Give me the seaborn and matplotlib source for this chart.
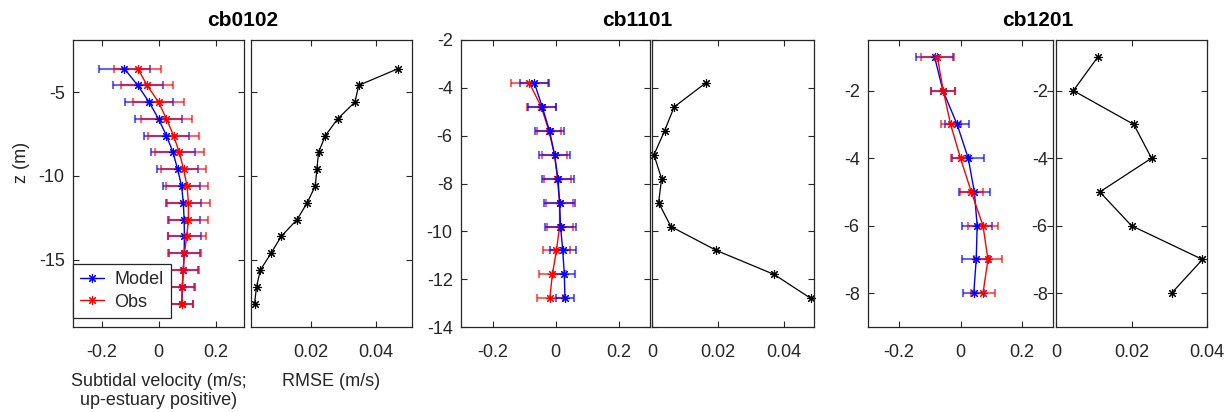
import numpy as np
import pandas as pd
import matplotlib
matplotlib.use("Agg")
import matplotlib.pyplot as plt
from matplotlib.lines import Line2D
import seaborn as sns

# ---------------- data ----------------
stations = ["cb0102", "cb1101", "cb1201"]

z_cb0102 = [-3.6, -4.6, -5.6, -6.6, -7.6, -8.6, -9.6, -10.6, -11.6, -12.6, -13.6, -14.6, -15.6, -16.6, -17.6]
model_cb0102 = [-0.120, -0.073, -0.033, 0.000, 0.028, 0.051, 0.067, 0.081, 0.087, 0.090, 0.091, 0.090, 0.087, 0.084, 0.082]
model_err_cb0102 = [0.090, 0.088, 0.085, 0.082, 0.080, 0.076, 0.071, 0.065, 0.061, 0.057, 0.057, 0.054, 0.052, 0.045, 0.040]
obs_cb0102 = [-0.073, -0.040, 0.000, 0.028, 0.053, 0.073, 0.088, 0.100, 0.105, 0.105, 0.099, 0.091, 0.087, 0.083, 0.082]
obs_err_cb0102 = [0.083, 0.091, 0.088, 0.090, 0.089, 0.085, 0.080, 0.075, 0.074, 0.069, 0.066, 0.059, 0.054, 0.043, 0.039]
rmse_cb0102 = [0.0469, 0.0347, 0.0335, 0.0282, 0.0244, 0.0223, 0.0218, 0.0213, 0.0188, 0.0157, 0.0108, 0.0077, 0.0044, 0.0032, 0.0026]

z_cb1101 = [-3.8, -4.8, -5.8, -6.8, -7.8, -8.8, -9.8, -10.8, -11.8, -12.8]
model_cb1101 = [-0.067, -0.042, -0.019, -0.003, 0.008, 0.013, 0.016, 0.023, 0.028, 0.030]
model_err_cb1101 = [0.045, 0.044, 0.047, 0.049, 0.050, 0.049, 0.048, 0.042, 0.035, 0.030]
obs_cb1101 = [-0.083, -0.045, -0.021, -0.003, 0.006, 0.013, 0.013, 0.003, -0.010, -0.018]
obs_err_cb1101 = [0.058, 0.045, 0.038, 0.041, 0.042, 0.042, 0.041, 0.044, 0.043, 0.041]
rmse_cb1101 = [0.0162, 0.0067, 0.0038, 0.0006, 0.0029, 0.0020, 0.0057, 0.0195, 0.0369, 0.0480]

z_cb1201 = [-1, -2, -3, -4, -5, -6, -7, -8]
model_cb1201 = [-0.084, -0.057, -0.011, 0.025, 0.045, 0.054, 0.051, 0.043]
model_err_cb1201 = [0.060, 0.039, 0.038, 0.052, 0.050, 0.048, 0.045, 0.034]
obs_cb1201 = [-0.075, -0.056, -0.032, 0.000, 0.035, 0.073, 0.089, 0.073]
obs_err_cb1201 = [0.053, 0.039, 0.032, 0.032, 0.038, 0.049, 0.046, 0.039]
rmse_cb1201 = [0.0111, 0.0046, 0.0206, 0.0253, 0.0116, 0.0200, 0.0388, 0.0306]

vel_ticks = [-0.2, 0, 0.2]
vel_ticklabels = ["-0.2", "0", "0.2"]
rmse_ticks = [0, 0.02, 0.04]
rmse_ticklabels = ["0", "0.02", "0.04"]

# ---------------- style ----------------
sns.set_style("ticks")
plt.rcParams["font.family"] = ["Liberation Sans", "DejaVu Sans"]
plt.rcParams["axes.unicode_minus"] = False
txt = "#262626"

fig = plt.figure(figsize=(12.27, 4.12), dpi=100)
W, H = 1227.0, 412.0


def add_ax(x0, x1, y0, y1):
    return fig.add_axes([x0 / W, 1 - y1 / H, (x1 - x0) / W, (y1 - y0) / H])


def style(ax):
    for s in ax.spines.values():
        s.set_color("#262626")
        s.set_linewidth(0.9)
    ax.tick_params(direction="in", top=True, right=True, length=4, width=0.8,
                   labelsize=13, colors="#262626", labelcolor=txt)
    ax.tick_params(axis="x", pad=12)
    ax.tick_params(axis="y", pad=6)


ast = (8, 2, 0)
MS = 6.5
MEW = 0.8

panels = [
    dict(name="cb0102", z=z_cb0102, m=model_cb0102, me=model_err_cb0102, o=obs_cb0102,
         oe=obs_err_cb0102, r=rmse_cb0102, vx=(73, 244), rx=(251, 412), ylim=(-19.0, -1.9),
         yt=[-15, -10, -5], rxlim=(0.0015, 0.0511), rlab=False, order="mo"),
    dict(name="cb1101", z=z_cb1101, m=model_cb1101, me=model_err_cb1101, o=obs_cb1101,
         oe=obs_err_cb1101, r=rmse_cb1101, vx=(461, 650), rx=(652, 814), ylim=(-14, -2),
         yt=[-14, -12, -10, -8, -6, -4, -2], rxlim=(0.0, 0.049), rlab=False, order="om"),
    dict(name="cb1201", z=z_cb1201, m=model_cb1201, me=model_err_cb1201, o=obs_cb1201,
         oe=obs_err_cb1201, r=rmse_cb1201, vx=(868, 1053), rx=(1056, 1207), ylim=(-9, -0.5),
         yt=[-8, -6, -4, -2], rxlim=(0.0, 0.040), rlab=True, order="mo"),
]

for i, p in enumerate(panels):
    y0, y1 = 40, 327
    axv = add_ax(p["vx"][0], p["vx"][1], y0, y1)
    axr = add_ax(p["rx"][0], p["rx"][1], y0, y1)

    series = {"m": ("Model", p["m"], p["me"], "blue"), "o": ("Obs", p["o"], p["oe"], "red")}
    for key in p["order"]:
        lab, vals, errs, col = series[key]
        df = pd.DataFrame({"u": vals, "z": p["z"]})
        axv.errorbar(vals, p["z"], xerr=errs, fmt="none", ecolor=col, alpha=0.6,
                     elinewidth=1.5, capsize=3.2, capthick=1.5, zorder=2)
        sns.lineplot(data=df, x="u", y="z", orient="y", sort=False, estimator=None,
                     color=col, lw=1.0, marker=ast, markersize=MS, markeredgecolor=col,
                     markeredgewidth=MEW, ax=axv, zorder=3)
    axv.set_xticks(vel_ticks, vel_ticklabels)
    axv.set_yticks(p["yt"], [str(t) for t in p["yt"]])
    axv.set_xlim(-0.3, 0.3)
    axv.set_ylim(*p["ylim"])
    axv.set_xlabel("")
    axv.set_ylabel("")
    style(axv)
    if axv.get_legend() is not None:
        axv.get_legend().remove()

    dfr = pd.DataFrame({"rmse": p["r"], "z": p["z"]})
    sns.lineplot(data=dfr, x="rmse", y="z", orient="y", sort=False, estimator=None,
                 color="black", lw=0.9, marker=ast, markersize=MS, markeredgecolor="black",
                 markeredgewidth=MEW, ax=axr, clip_on=False)
    axr.set_xticks(rmse_ticks, rmse_ticklabels)
    axr.set_yticks(p["yt"], [str(t) for t in p["yt"]])
    axr.set_xlim(*p["rxlim"])
    axr.set_ylim(*p["ylim"])
    axr.set_xlabel("")
    axr.set_ylabel("")
    style(axr)
    if not p["rlab"]:
        axr.tick_params(labelleft=False)
    if axr.get_legend() is not None:
        axr.get_legend().remove()

    cx = (p["vx"][0] + p["rx"][1]) / 2 / W
    fig.text(cx, 1 - 21 / H, p["name"], ha="center", va="center", fontsize=15,
             fontweight="bold", color="black")

    if i == 0:
        axv.set_ylabel("z (m)", fontsize=13, color=txt)
        axv.yaxis.set_label_coords(-0.25, 0.575)
        axv.set_xlabel("Subtidal velocity (m/s;\nup-estuary positive)", fontsize=13,
                       color=txt, labelpad=9, linespacing=1.15)
        axr.set_xlabel("RMSE (m/s)", fontsize=13, color=txt, labelpad=9)
        leg_handles = [
            Line2D([], [], color="blue", lw=1.0, marker=ast, markersize=MS, mec="blue", mew=MEW),
            Line2D([], [], color="red", lw=1.0, marker=ast, markersize=MS, mec="red", mew=MEW),
        ]
        leg = axv.legend(leg_handles, ["Model", "Obs"], loc="lower left",
                         bbox_to_anchor=(0.0, 9 / 287), fontsize=13,
                         frameon=True, fancybox=False, framealpha=1, edgecolor="#262626",
                         borderaxespad=0.0, handlelength=1.3, handletextpad=0.6,
                         borderpad=0.4, labelspacing=0.3)
        leg.get_frame().set_linewidth(0.9)
        leg.set_zorder(10)

fig.savefig("out.png", dpi=100)
